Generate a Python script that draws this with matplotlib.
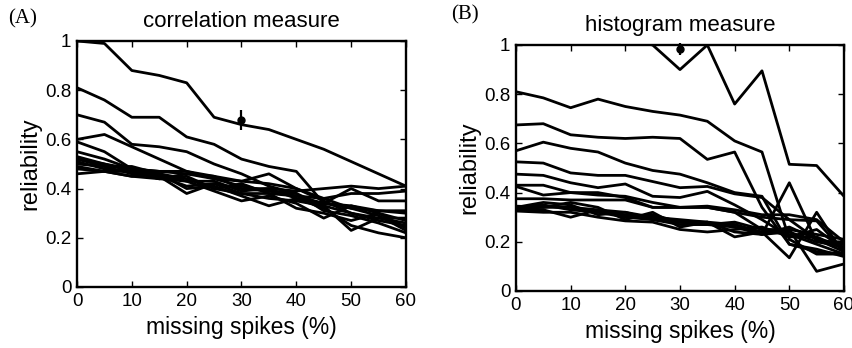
import matplotlib.pyplot as plt
import numpy as np

plt.rcParams["font.family"] = ["Liberation Sans", "DejaVu Sans"]

missing = [0, 5, 10, 15, 20, 25, 30, 35, 40, 45, 50, 55, 60]

# correlation measure, one list per neuron
corr_lines = [
    [1.00, 0.99, 0.88, 0.86, 0.83, 0.69, 0.66, 0.64, 0.60, 0.56, 0.51, 0.46, 0.41],
    [0.81, 0.76, 0.69, 0.69, 0.61, 0.58, 0.52, 0.49, 0.47, 0.34, 0.33, 0.31, 0.31],
    [0.70, 0.67, 0.58, 0.57, 0.55, 0.50, 0.46, 0.41, 0.38, 0.33, 0.30, 0.27, 0.25],
    [0.60, 0.62, 0.57, 0.52, 0.47, 0.44, 0.43, 0.46, 0.40, 0.36, 0.32, 0.29, 0.23],
    [0.59, 0.55, 0.48, 0.47, 0.46, 0.45, 0.40, 0.40, 0.39, 0.40, 0.41, 0.40, 0.41],
    [0.55, 0.52, 0.48, 0.45, 0.41, 0.42, 0.38, 0.36, 0.35, 0.33, 0.23, 0.28, 0.26],
    [0.53, 0.50, 0.47, 0.46, 0.43, 0.39, 0.35, 0.37, 0.34, 0.28, 0.33, 0.30, 0.24],
    [0.52, 0.49, 0.49, 0.46, 0.40, 0.41, 0.37, 0.33, 0.36, 0.32, 0.25, 0.22, 0.20],
    [0.51, 0.48, 0.47, 0.44, 0.45, 0.40, 0.38, 0.38, 0.32, 0.30, 0.27, 0.30, 0.27],
    [0.50, 0.49, 0.46, 0.45, 0.38, 0.42, 0.40, 0.39, 0.38, 0.31, 0.29, 0.26, 0.22],
    [0.49, 0.47, 0.45, 0.46, 0.44, 0.40, 0.42, 0.38, 0.37, 0.34, 0.40, 0.35, 0.35],
    [0.48, 0.47, 0.47, 0.44, 0.46, 0.44, 0.41, 0.39, 0.37, 0.36, 0.38, 0.38, 0.39],
    [0.46, 0.47, 0.45, 0.44, 0.43, 0.43, 0.39, 0.40, 0.36, 0.34, 0.32, 0.31, 0.30],
    [0.52, 0.50, 0.48, 0.47, 0.47, 0.45, 0.43, 0.42, 0.40, 0.35, 0.30, 0.28, 0.28],
]
corr_point = (30, 0.68, 0.04)

# histogram measure
hist_lines = [
    [1.10, 1.08, 1.06, 1.04, 1.02, 1.00, 0.90, 1.00, 0.76, 0.895, 0.515, 0.51, 0.385],
    [0.81, 0.785, 0.745, 0.78, 0.75, 0.73, 0.715, 0.69, 0.61, 0.565, 0.21, 0.15, 0.15],
    [0.675, 0.68, 0.635, 0.625, 0.62, 0.625, 0.62, 0.535, 0.565, 0.34, 0.19, 0.16, 0.15],
    [0.57, 0.605, 0.58, 0.565, 0.52, 0.49, 0.475, 0.44, 0.40, 0.385, 0.19, 0.17, 0.14],
    [0.525, 0.52, 0.48, 0.47, 0.47, 0.445, 0.42, 0.425, 0.395, 0.38, 0.29, 0.21, 0.16],
    [0.475, 0.47, 0.44, 0.42, 0.435, 0.385, 0.38, 0.405, 0.35, 0.29, 0.22, 0.25, 0.17],
    [0.43, 0.43, 0.40, 0.39, 0.385, 0.36, 0.34, 0.34, 0.32, 0.30, 0.29, 0.285, 0.16],
    [0.425, 0.39, 0.40, 0.40, 0.38, 0.34, 0.34, 0.34, 0.32, 0.25, 0.25, 0.08, 0.11],
    [0.375, 0.375, 0.37, 0.37, 0.37, 0.34, 0.34, 0.345, 0.33, 0.31, 0.31, 0.29, 0.20],
    [0.345, 0.34, 0.34, 0.32, 0.30, 0.31, 0.28, 0.27, 0.27, 0.24, 0.135, 0.32, 0.15],
    [0.34, 0.35, 0.33, 0.32, 0.31, 0.30, 0.29, 0.28, 0.22, 0.24, 0.25, 0.23, 0.21],
    [0.33, 0.33, 0.30, 0.33, 0.30, 0.29, 0.27, 0.27, 0.26, 0.23, 0.24, 0.20, 0.18],
    [0.325, 0.32, 0.32, 0.30, 0.285, 0.28, 0.25, 0.24, 0.25, 0.26, 0.22, 0.22, 0.17],
    [0.34, 0.36, 0.35, 0.31, 0.32, 0.30, 0.28, 0.27, 0.28, 0.25, 0.23, 0.19, 0.15],
    [0.335, 0.34, 0.36, 0.34, 0.29, 0.32, 0.26, 0.28, 0.24, 0.23, 0.26, 0.21, 0.19],
    [0.34, 0.345, 0.34, 0.33, 0.32, 0.29, 0.28, 0.28, 0.27, 0.23, 0.44, 0.20, 0.20],
]
hist_point = (30, 0.985, 0.025)

yticks = [0, 0.2, 0.4, 0.6, 0.8, 1]
ytick_labels = ["0", "0.2", "0.4", "0.6", "0.8", "1"]
xticks = [0, 10, 20, 30, 40, 50, 60]


def draw_panel(ax, lines, point, title):
    for vals in lines:
        ax.plot(missing, vals, color="k", lw=2.0)
    px, py, perr = point
    ax.errorbar(px, py, yerr=perr, fmt="o", color="k", ms=5, lw=1.6,
                capsize=0, clip_on=False, zorder=5)
    ax.set_xlim(0, 60)
    ax.set_ylim(0, 1)
    ax.set_xticks(xticks)
    ax.set_yticks(yticks)
    ax.set_yticklabels(ytick_labels)
    ax.tick_params(direction="in", top=True, right=True, length=4, width=1,
                   labelsize=13.5, pad=4)
    for sp in ax.spines.values():
        sp.set_linewidth(1.7)
    ax.set_xlabel("missing spikes (%)", fontsize=16.5, labelpad=5)
    ax.set_ylabel("reliability", fontsize=17, labelpad=3)
    ax.set_title(title, fontsize=16, pad=10)


fig = plt.figure(figsize=(8.52, 3.48), dpi=100)
ax_a = fig.add_axes([0.0904, 0.1753, 0.3861, 0.7069])
ax_b = fig.add_axes([0.6056, 0.1638, 0.3850, 0.7069])

draw_panel(ax_a, corr_lines, corr_point, "correlation measure")
draw_panel(ax_b, hist_lines, hist_point, "histogram measure")

fig.text(0.009, 0.947, "(A)", fontsize=15, family="Liberation Serif", va="center")
fig.text(0.530, 0.957, "(B)", fontsize=15, family="Liberation Serif", va="center")

fig.savefig("out.png", dpi=100)
